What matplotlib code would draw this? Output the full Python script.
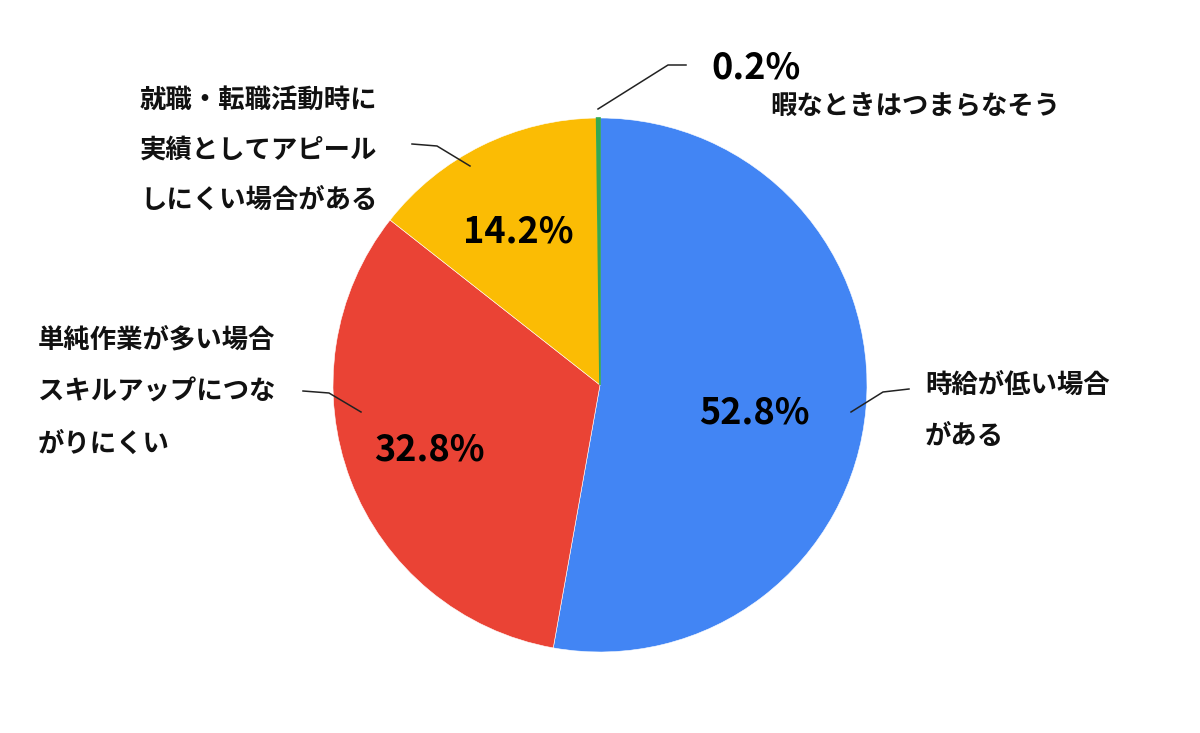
import matplotlib
matplotlib.use("Agg")
import matplotlib.pyplot as plt

plt.rcParams['font.family'] = ['Noto Sans CJK JP', 'DejaVu Sans']

# Data
categories = ["時給が低い場合\nがある",
              "単純作業が多い場合\nスキルアップにつな\nがりにくい",
              "就職・転職活動時に\n実績としてアピール\nしにくい場合がある",
              "暇なときはつまらなそう"]
values = [52.8, 32.8, 14.2, 0.2]
colors = ["#4285F4", "#EA4335", "#FBBC04", "#34A853"]

W, H = 1200, 733
fig = plt.figure(figsize=(W / 100, H / 100), dpi=100)
ax = fig.add_axes([0, 0, 1, 1])
ax.set_xlim(0, W)
ax.set_ylim(0, H)
ax.set_aspect('equal')
ax.axis('off')

def py(y):
    return H - y

cx, cy, R = 600, 385, 267
wedges, _ = ax.pie(values, colors=colors, startangle=90, counterclock=False,
                   center=(cx, py(cy)), radius=R, frame=True,
                   wedgeprops=dict(edgecolor='white', linewidth=0.4))
wedges[-1].set_edgecolor(colors[-1])
wedges[-1].set_linewidth(1.2)
wedges[-1].set_zorder(3)
ax.set_xlim(0, W)
ax.set_ylim(0, H)
ax.axis('off')

# percentage labels inside (blue, red, yellow) and outside (green)
pct_pos = [(754, 413, 'center'), (429, 450, 'center'), (518, 232, 'center'), (711, 68, 'left')]
for v, (x, y, ha) in zip(values, pct_pos):
    ax.text(x, py(y), f"{v}%", fontsize=26, fontweight='bold', ha=ha, va='center',
            color='black')

# category labels
lab_pos = [(925, 385), (38, 340), (140, 100), (770, 107)]
spacing = [52, 52, 50, 50]
for lab, (x, y), sp in zip(categories, lab_pos, spacing):
    for i, line in enumerate(lab.split("\n")):
        ax.text(x, py(y + i * sp), line, fontsize=19, fontweight='bold',
                ha='left', va='center', color='#111111')

# leader lines
leaders = [
    [(851, 412), (883, 392), (909, 389)],
    [(361, 412), (329, 393), (303, 391)],
    [(470, 166), (437, 146), (412, 144)],
    [(598, 109), (668, 65), (686, 65)],
]
for pts in leaders:
    xs = [p[0] for p in pts]
    ys = [py(p[1]) for p in pts]
    ax.plot(xs, ys, color='#222222', linewidth=1.1, zorder=5)

fig.savefig("out.png", dpi=100)
